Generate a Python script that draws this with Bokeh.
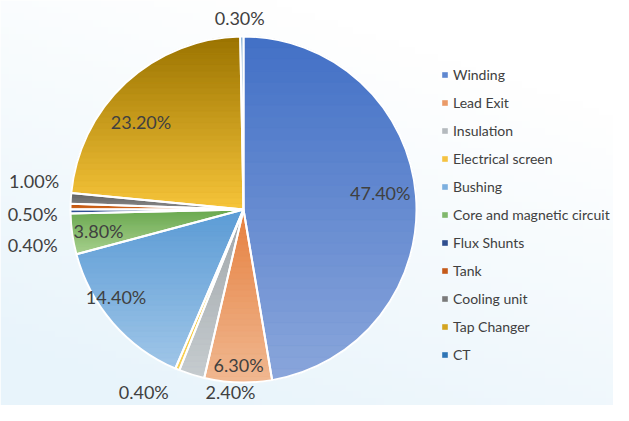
import numpy as np
from bokeh.plotting import figure
from bokeh.models import Range1d, Legend, LegendItem, ColumnDataSource
from bokeh.core.properties import value
from bokeh.embed import file_html
from bokeh.resources import INLINE

# ---- data ----
categories = ["Winding", "Lead Exit", "Insulation", "Electrical screen", "Bushing",
              "Core and magnetic circuit", "Flux Shunts", "Tank", "Cooling unit",
              "Tap Changer", "CT"]
shares = [47.4, 6.3, 2.4, 0.4, 14.4, 3.8, 0.4, 0.5, 1.0, 23.2, 0.3]
labels = ["47.40%", "6.30%", "2.40%", "0.40%", "14.40%", "3.80%", "0.40%",
          "0.50%", "1.00%", "23.20%", "0.30%"]

# ---- styles ----
base_colors = ["#5F87D0", "#EA9A68", "#B4BABE", "#F5C242", "#7CB0DF", "#80B86C",
               "#2F4E8F", "#C55A1A", "#7A7A7A", "#D4A420", "#2E75B6"]
top_colors = ["#4270C6", "#E6803F", "#A0A6AA", "#F2B800", "#5B9BD5", "#6AA84F",
              "#2F4F8F", "#C55A11", "#636363", "#9A7300", "#2E75B6"]
bot_colors = ["#8AA6DB", "#F0B891", "#C6CCCF", "#F8D25A", "#A0C6E8", "#AAD290",
              "#3A5FA6", "#D06A28", "#8E8E8E", "#F7C53A", "#3A82C2"]
label_rf = [0.77, 0.90, 1.08, 1.19, 0.86, 0.80, 1.19, 1.19, 1.19, 0.77, 1.10]
label_nudge = [(4, -5), (0, 0), (43, 4), (-21, -8), (-15, -10), (-8, 2),
               (-5, 33), (-5, 8), (-4, -15), (-12, 10), (-2, -1)]

W, H = 613, 405
cx, cy, R = 243, H - 209, 173


def hex2rgb(h):
    h = h.lstrip("#")
    return np.array([int(h[i:i + 2], 16) for i in (0, 2, 4)], dtype=float)


def mix(c1, c2, t):
    c = hex2rgb(c1) * (1 - t) + hex2rgb(c2) * t
    return "#%02x%02x%02x" % tuple(int(round(v)) for v in c)


def clip_half(pts, inside, inter):
    out = []
    n = len(pts)
    for i in range(n):
        cur, prev = pts[i], pts[i - 1]
        if inside(cur):
            if not inside(prev):
                out.append(inter(prev, cur))
            out.append(cur)
        elif inside(prev):
            out.append(inter(prev, cur))
    return out


def clip_strip(pts, lo, hi):
    def inter_y(yv):
        def f(a, b):
            t = (yv - a[1]) / (b[1] - a[1])
            return (a[0] + t * (b[0] - a[0]), yv)
        return f
    pts = clip_half(pts, lambda p_: p_[1] >= lo, inter_y(lo))
    if not pts:
        return pts
    pts = clip_half(pts, lambda p_: p_[1] <= hi, inter_y(hi))
    return pts


p = figure(width=W, height=H, output_backend="svg", toolbar_location=None,
           x_range=Range1d(0, W), y_range=Range1d(0, H),
           x_axis_type=None, y_axis_type=None, min_border=0)
p.grid.visible = False
p.outline_line_color = None
p.background_fill_color = "white"
p.border_fill_color = "white"

# background soft gradient (white top-right -> pale blue bottom-left)
gx, gy = np.meshgrid(np.linspace(0, 1, 80), np.linspace(0, 1, 60))
tt = np.clip(0.9 * (1 - gy) + 0.45 * (1 - gx) - 0.25, 0, 1)
img = np.zeros((60, 80), dtype=np.uint32)
view = img.view(dtype=np.uint8).reshape((60, 80, 4))
view[:, :, 0] = (255 * (1 - tt) + 232 * tt).astype(np.uint8)
view[:, :, 1] = (255 * (1 - tt) + 244 * tt).astype(np.uint8)
view[:, :, 2] = (255 * (1 - tt) + 251 * tt).astype(np.uint8)
view[:, :, 3] = 255
p.image_rgba(image=[img], x=0, y=0, dw=W, dh=H)

total = sum(shares)
frac = np.array(shares) / total
cum = np.concatenate([[0], np.cumsum(frac)])
ang_top = np.pi / 2 - 2 * np.pi * cum[:-1]
ang_bot = np.pi / 2 - 2 * np.pi * cum[1:]

src = ColumnDataSource(dict(cat=categories, start=ang_bot, end=ang_top, color=base_colors))
rw = p.wedge(x=cx, y=cy, radius=R, start_angle="start", end_angle="end",
             fill_color="color", line_color=None, source=src)

# gradient fill via horizontal strips
xs, ys, cols = [], [], []
for i in range(len(shares)):
    th = np.linspace(ang_top[i], ang_bot[i], max(4, int(frac[i] * 400)))
    poly = [(cx, cy)] + [(cx + R * np.cos(a), cy + R * np.sin(a)) for a in th]
    ymin = min(q[1] for q in poly)
    ymax = max(q[1] for q in poly)
    nstrip = 30
    edges = np.linspace(ymin, ymax, nstrip + 1)
    for k in range(nstrip):
        part = clip_strip(poly, edges[k], edges[k + 1])
        if len(part) < 3:
            continue
        t = 1 - (k + 0.5) / nstrip  # 0 at top, 1 at bottom
        c = mix(top_colors[i], bot_colors[i], t)
        xs.append([q[0] for q in part])
        ys.append([q[1] for q in part])
        cols.append(c)
p.patches(xs, ys, fill_color=cols, line_color=cols, line_width=0.6)

# white separators
p.wedge(x=cx, y=cy, radius=R, start_angle="start", end_angle="end",
        fill_alpha=0, line_color="white", line_width=2, source=src)

# labels
mid = 2 * np.pi * (cum[:-1] + cum[1:]) / 2
lx = [cx + label_rf[i] * R * np.sin(mid[i]) + label_nudge[i][0] for i in range(len(shares))]
ly = [cy + label_rf[i] * R * np.cos(mid[i]) - label_nudge[i][1] for i in range(len(shares))]
p.text(x=lx, y=ly, text=labels, text_align="center", text_baseline="middle",
       text_font=value("Lato"), text_font_size="18px", text_color="#404040")

items = [LegendItem(label=categories[i], renderers=[rw], index=i) for i in range(len(categories))]
legend = Legend(items=items, location=(441, 40), orientation="vertical",
                glyph_width=7, glyph_height=7, label_height=21, spacing=7,
                label_standoff=5, padding=0, margin=0,
                border_line_color=None, background_fill_alpha=0,
                label_text_font="Lato", label_text_font_size="14px",
                label_text_color="#404040")
p.add_layout(legend, "center")

open("out.html", "w").write(file_html(p, INLINE))
